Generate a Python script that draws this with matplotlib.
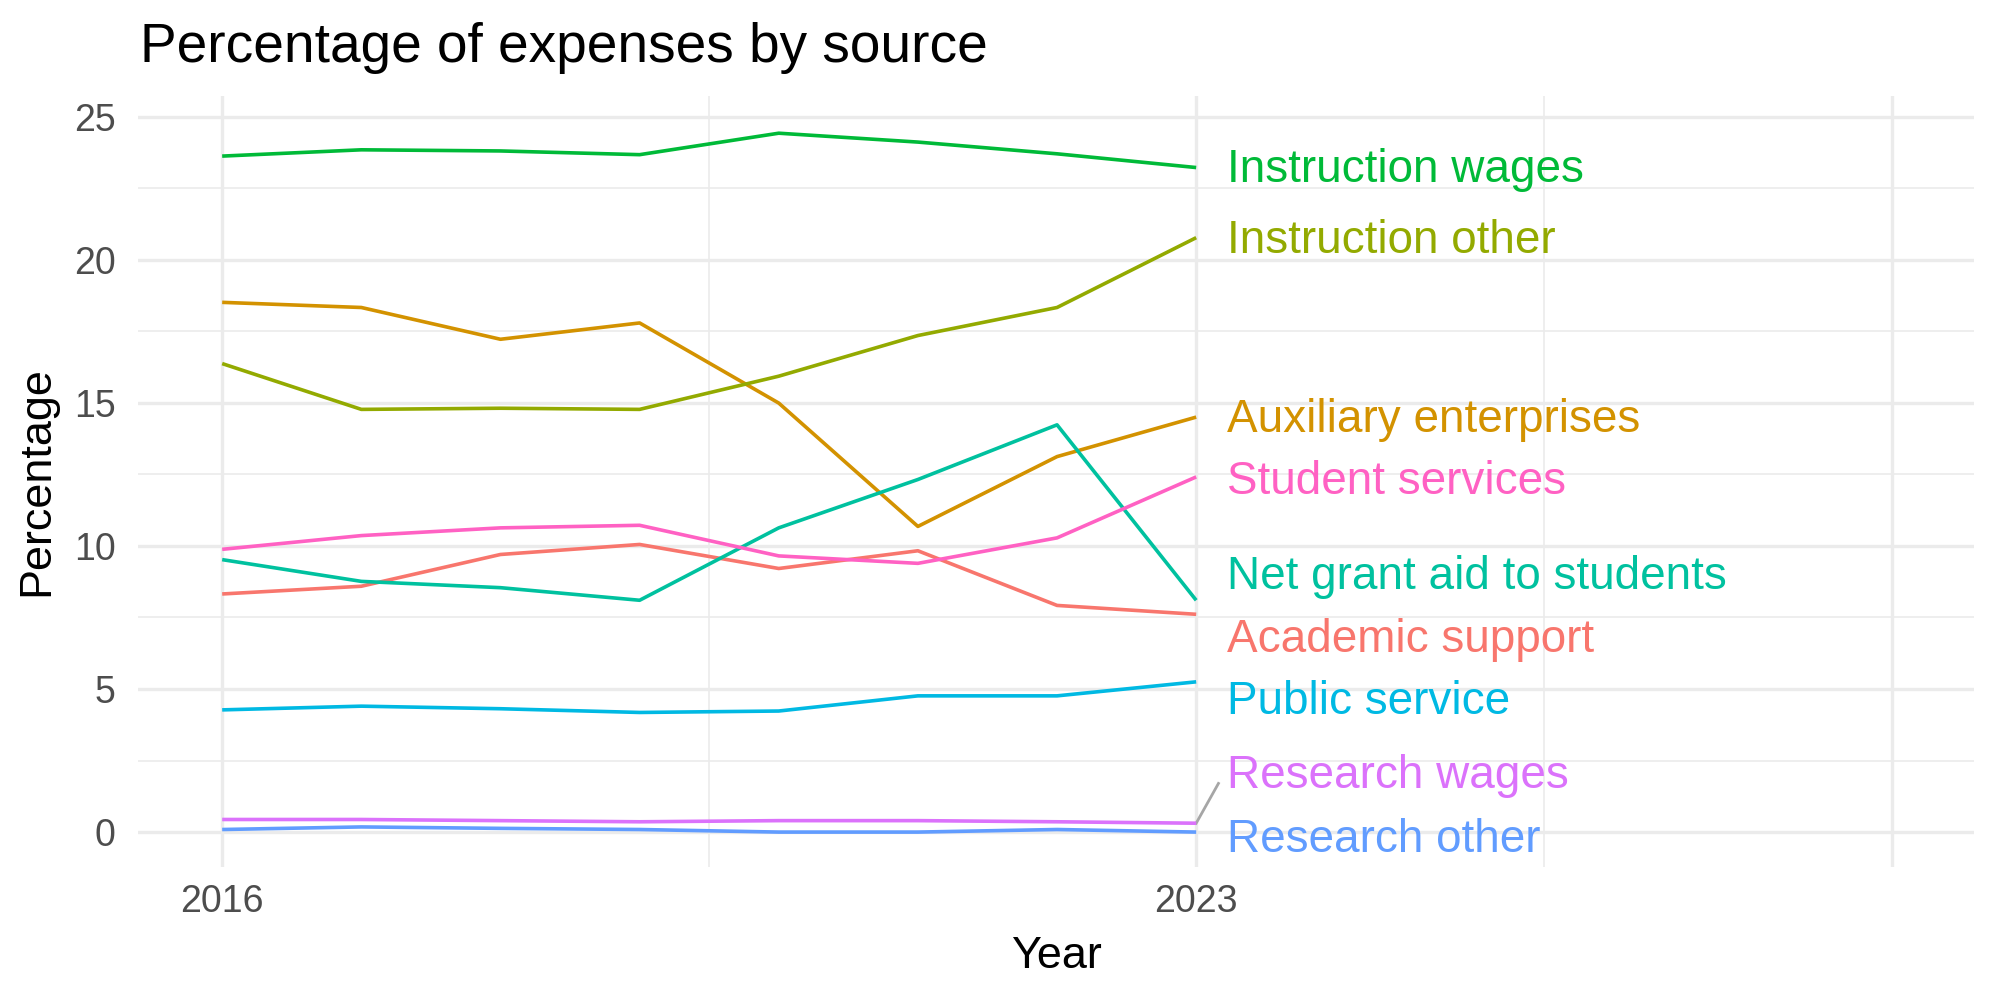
import matplotlib
matplotlib.use("Agg")
import matplotlib.pyplot as plt

plt.rcParams['font.family'] = ['Liberation Sans', 'DejaVu Sans']

years = [2016, 2017, 2018, 2019, 2020, 2021, 2022, 2023]

instruction_wages = [23.62, 23.84, 23.80, 23.67, 24.42, 24.11, 23.70, 23.22]
instruction_other = [16.37, 14.77, 14.81, 14.77, 15.93, 17.35, 18.33, 20.77]
auxiliary = [18.51, 18.33, 17.22, 17.79, 14.99, 10.68, 13.12, 14.50]
student_services = [9.88, 10.36, 10.63, 10.72, 9.65, 9.39, 10.28, 12.41]
net_grant_aid = [9.52, 8.76, 8.54, 8.10, 10.63, 12.32, 14.23, 8.10]
academic_support = [8.32, 8.59, 9.70, 10.05, 9.21, 9.83, 7.92, 7.61]
public_service = [4.27, 4.40, 4.31, 4.18, 4.23, 4.76, 4.76, 5.25]
research_wages = [0.44, 0.44, 0.40, 0.36, 0.40, 0.40, 0.36, 0.31]
research_other = [0.09, 0.18, 0.13, 0.09, 0.00, 0.00, 0.09, 0.00]

series = [
    ("Academic support", academic_support, "#F8766D"),
    ("Auxiliary enterprises", auxiliary, "#D39200"),
    ("Instruction other", instruction_other, "#93AA00"),
    ("Instruction wages", instruction_wages, "#00BA38"),
    ("Net grant aid to students", net_grant_aid, "#00C19F"),
    ("Public service", public_service, "#00B9E3"),
    ("Research other", research_other, "#619CFF"),
    ("Research wages", research_wages, "#DB72FB"),
    ("Student services", student_services, "#FF61C3"),
]

# repelled label heights at the right end
label_y = {
    "Instruction wages": 23.12,
    "Instruction other": 20.67,
    "Auxiliary enterprises": 14.40,
    "Student services": 12.22,
    "Net grant aid to students": 8.93,
    "Academic support": 6.71,
    "Public service": 4.53,
    "Research wages": 1.95,
    "Research other": -0.28,
}

fig = plt.figure(figsize=(10, 5), dpi=200)
ax = fig.add_axes([0.069, 0.133, 0.918, 0.771])

for name, vals, col in series:
    ax.plot(years, vals, color=col, lw=1.3, solid_capstyle='butt', zorder=3)
    ly = label_y[name]
    ax.text(2023.22, ly, name, color=col, fontsize=16.5, va='center', ha='left', zorder=4)

# segment connecting Research wages label
ax.plot([2023, 2023.16], [research_wages[-1], 1.7], color='#A6A6A6', lw=1.0, zorder=2)

ax.set_xlim(2015.395, 2028.59)
ax.set_ylim(-1.22, 25.72)

ax.set_xticks([2016, 2023, 2028])
ax.set_xticklabels(["2016", "2023", ""])
ax.set_xticks([2019.5, 2025.5], minor=True)
ax.set_yticks([0, 5, 10, 15, 20, 25])
ax.set_yticks([2.5, 7.5, 12.5, 17.5, 22.5], minor=True)

ax.grid(which='major', color='#EBEBEB', lw=1.2)
ax.grid(which='minor', color='#EBEBEB', lw=0.6)
ax.set_axisbelow(True)
ax.tick_params(which='both', length=0)
ax.tick_params(axis='both', labelsize=13.5, labelcolor='#4D4D4D', pad=6)
ax.tick_params(axis='y', pad=8)
for s in ax.spines.values():
    s.set_visible(False)

ax.set_xlabel("Year", fontsize=16.2, labelpad=6)
ax.set_ylabel("Percentage", fontsize=16.2, labelpad=6)
fig.text(0.070, 0.952, "Percentage of expenses by source", fontsize=19.8, va='center', ha='left')

fig.savefig("out.png", dpi=200, facecolor='white')
